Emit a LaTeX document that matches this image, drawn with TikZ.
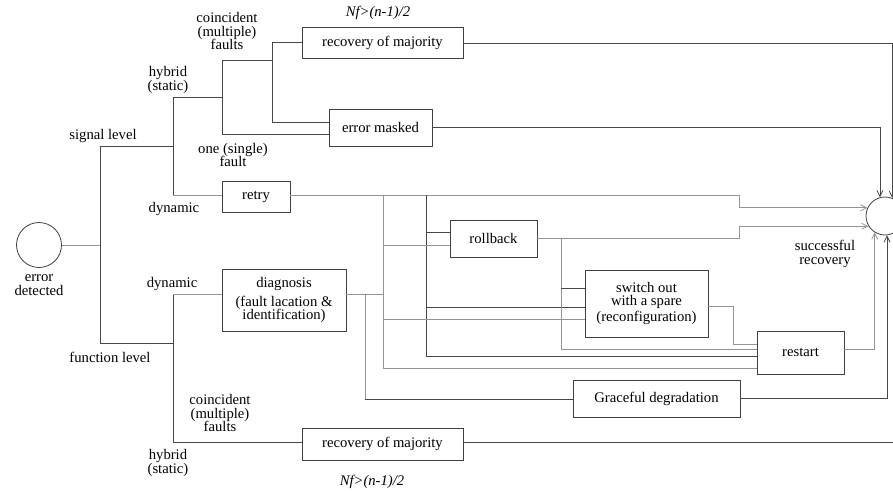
\documentclass[tikz,border=0pt]{standalone}
\usepackage{fontspec}
\setmainfont{Liberation Serif}
\usetikzlibrary{arrows.meta}
\begin{document}
\begin{tikzpicture}[x=0.75pt,y=-0.75pt,
  font=\fontsize{11}{10.2}\selectfont,
  dk/.style={draw=black!72,line width=0.6pt},
  lt/.style={draw=black!42,line width=0.6pt},
  arr/.style={-{Straight Barb[length=4.5pt,width=4.5pt]}},
  box/.style={draw=black!75,line width=0.6pt,inner sep=0pt,align=center},
  lbl/.style={inner sep=0pt,align=center}]
\useasboundingbox (0,0) rectangle (893,490);

% circles
\node[draw=black!75,line width=0.6pt,circle,minimum size=45*0.75pt,inner sep=0pt] (err) at (39,245) {};
\node[lbl] (errl) at (39,285) {error\\detected};
\node[draw=black!75,line width=0.6pt,circle,minimum size=38*0.75pt,inner sep=0pt] (succ) at (885,216) {};
\node[lbl] (succl) at (825,254) {successful\\recovery};

% boxes
\node[box,minimum width=161*0.75pt,minimum height=31*0.75pt] (rmtop) at (382.5,43) {recovery of majority};
\node[box,minimum width=103*0.75pt,minimum height=37*0.75pt] (errmask) at (380.5,127.5) {error masked};
\node[box,minimum width=68*0.75pt,minimum height=31*0.75pt] (retry) at (256,197) {retry};
\node[box,minimum width=87*0.75pt,minimum height=37*0.75pt] (rollback) at (493.5,238.5) {rollback};
\node[box,minimum width=124*0.75pt,minimum height=62*0.75pt] (diag) at (284,300) {diagnosis\\[4pt](fault lacation \&\\identification)};
\node[box,minimum width=123*0.75pt,minimum height=67*0.75pt] (switch) at (646.5,303.5) {switch out\\with a spare\\[2pt](reconfiguration)};
\node[box,minimum width=87*0.75pt,minimum height=43*0.75pt] (restart) at (800.5,352.5) {restart};
\node[box,minimum width=167*0.75pt,minimum height=37*0.75pt] (graceful) at (656.5,398.5) {Graceful degradation};
\node[box,minimum width=161*0.75pt,minimum height=32*0.75pt] (rmbot) at (382.5,444) {recovery of majority};

% labels
\node[lbl] (l1) at (103,136) {signal level};
\node[lbl] (l2) at (110,357) {function level};
\node[lbl] (l3) at (168,80) {hybrid\\(static)};
\node[lbl] (l4) at (174,209) {dynamic};
\node[lbl] (l5) at (227,31) {coincident\\(multiple)\\faults};
\node[lbl] (l6) at (233,155) {one (single)\\fault};
\node[lbl] (l7) at (378,13) {\itshape Nf>(n-1)/2};
\node[lbl] (l8) at (172,284) {dynamic};
\node[lbl] (l9) at (220,413) {coincident\\(multiple)\\faults};
\node[lbl] (l10) at (168,463) {hybrid\\(static)};
\node[lbl] (l11) at (372,482) {\itshape Nf>(n-1)/2};

% trunk
\coordinate (jE) at (100,245);
\coordinate (jS) at (100,146);
\coordinate (jF) at (100,343);
\draw[lt] (err) -- (jE);
\draw[dk] (jS) -- (jF);

% signal level
\coordinate (s1) at (173,146);
\coordinate (hyT) at (173,97);
\coordinate (dyT) at (173,195);
\draw[dk] (jS) -- (s1);
\draw[dk] (hyT) -- (dyT);
\coordinate (h1) at (222,97);
\coordinate (h1t) at (222,60);
\coordinate (h1b) at (222,134);
\draw[dk] (hyT) -- (h1);
\draw[dk] (h1t) -- (h1b);
\coordinate (c1) at (272,60);
\coordinate (c1t) at (272,42);
\coordinate (c1b) at (272,122);
\draw[dk] (h1t) -- (c1);
\draw[dk] (c1t) -- (c1b);
\draw[dk] (c1t) -- (c1t -| rmtop.west);
\draw[dk] (c1b) -- (c1b -| errmask.west);
\draw[dk] (h1b) -- (h1b -| errmask.west);
\draw[dk,arr] (errmask.east) -| (succ.105);
\draw[dk,arr] (rmtop.east) -| (succ.68);

% retry
\draw[lt] (dyT) -- (dyT -| retry.west);
\coordinate (rt) at (739,195);
\draw[lt,arr] (dyT -| retry.east) -- (rt) |- (succ.155);

% verticals from retry
\coordinate (v1t) at (383,195);
\coordinate (v1b) at (383,368);
\coordinate (v2t) at (426,195);
\coordinate (v2b) at (426,356);
\draw[lt] (v1t) -- (v1b) -- (v1b -| restart.west);
\draw[dk] (v2t) -- (v2b) -- (v2b -| restart.west);
\coordinate (r1) at (383,245);
\draw[lt] (r1) -- (r1 -| rollback.west);
\coordinate (r2) at (426,232);
\draw[dk] (r2) -- (r2 -| rollback.west);
\coordinate (w1) at (383,319);
\draw[lt] (w1) -- (w1 -| switch.west);
\coordinate (w2) at (426,307);
\draw[dk] (w2) -- (w2 -| switch.west);

% diagnosis output
\coordinate (d1) at (383,294);
\draw[lt] (d1 -| diag.east) -- (d1);
\coordinate (g1) at (365,294);
\coordinate (g2) at (365,399);
\draw[lt] (g1) -- (g2);
\draw[dk] (g2) -- (g2 -| graceful.west);
\draw[dk,arr] (graceful.east) -| (succ.276);

% rollback output
\coordinate (rb) at (739,238.5);
\draw[lt,arr] (rollback.east) -- (rb) |- (succ.212);
\coordinate (x1t) at (561,238.5);
\coordinate (x1b) at (561,349);
\draw[lt] (x1t) -- (x1b) -- (x1b -| restart.west);
\coordinate (x2) at (561,288);
\draw[dk] (x2) -- (x2 -| switch.west);

% switch out output
\coordinate (so) at (733,306);
\coordinate (so2) at (733,344);
\draw[lt] (so -| switch.east) -- (so) -- (so2) -- (so2 -| restart.west);
\coordinate (rs) at (844,349);
\draw[lt,arr] (rs -| restart.east) -| (succ.238);

% function level
\coordinate (f1) at (173,343);
\coordinate (fT) at (173,294);
\coordinate (fB) at (173,442);
\draw[dk] (jF) -- (f1);
\draw[dk] (fT) -- (fB);
\draw[lt] (fT) -- (fT -| diag.west);
\draw[dk] (fB) -- (fB -| rmbot.west);
\coordinate (bo) at (893,442);
\draw[dk] (fB -| rmbot.east) -- (bo);
\end{tikzpicture}
\end{document}
